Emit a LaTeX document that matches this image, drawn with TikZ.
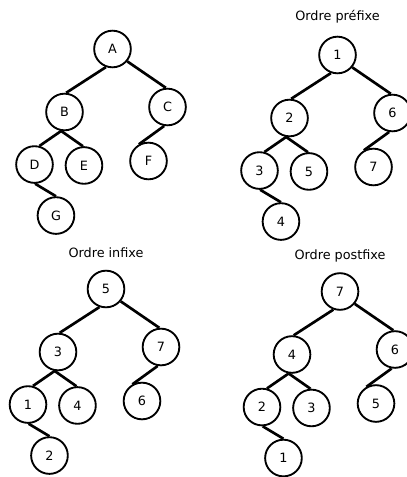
\documentclass[tikz,border=0pt]{standalone}
\usepackage{fontspec}
\setmainfont{DejaVu Sans}
\usetikzlibrary{positioning}

% un arbre : prefixe des noms, position de la racine, puis les 7 etiquettes
\newcommand{\arbre}[9]{%
  \node[noeud] (#1a) at #2                            {#3};
  \node[noeud] (#1b) [below left=47.25pt and 36pt of #1a]    {#4};
  \node[noeud] (#1c) [below right=43.5pt and 41.25pt of #1a] {#5};
  \node[noeud] (#1d) [below left=39.4pt and 22.5pt of #1b]   {#6};
  \node[noeud] (#1e) [below right=40.1pt and 14.6pt of #1b]  {#7};
  \node[noeud] (#1f) [below left=40.5pt and 14.25pt of #1c]  {#8};
  \node[noeud] (#1g) [below right=38.25pt and 16.1pt of #1d] {#9};
  \path (#1a.-110) edge [lien] (#1b.85)
        (#1a.-40)  edge [lien] (#1c.95)
        (#1b.-100) edge [lien] (#1d.75)
        (#1b.-100) edge [lien] (#1e.93)
        (#1c.-100) edge [lien] (#1f.120)
        (#1d.-88)  edge [lien] (#1g.90);
}

\begin{document}
\begin{tikzpicture}[x=0.75pt,y=-0.75pt,on grid,font=\fontsize{9.6}{11}\selectfont]
\useasboundingbox (0,0) rectangle (406,477);

\tikzset{noeud/.style={circle,draw,line width=1.4pt,minimum size=27.5pt,inner sep=0pt}}
\tikzset{lien/.style={line width=2pt}}

\arbre{n}{(112.5,49)}{A}{B}{C}{D}{E}{F}{G}
\arbre{p}{(337.5,55)}{1}{2}{6}{3}{5}{7}{4}
\arbre{i}{(106,289)}{5}{3}{7}{1}{4}{6}{2}
\arbre{s}{(340,291.5)}{7}{4}{6}{2}{3}{5}{1}

\node (tp) [above=29pt of pa] {Ordre préfixe};
\node (ti) [above=27pt of ia] {Ordre infixe};
\node (ts) [above=27pt of sa] {Ordre postfixe};

\end{tikzpicture}
\end{document}
